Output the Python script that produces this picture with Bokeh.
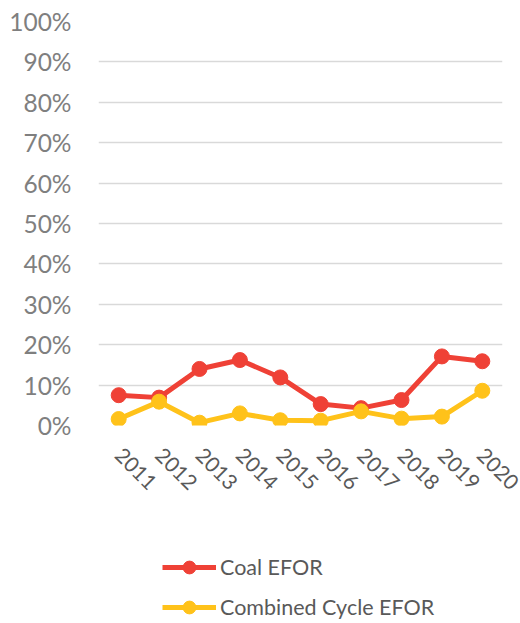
import math
from bokeh.plotting import figure
from bokeh.layouts import column
from bokeh.models import (Range1d, FactorRange, NumeralTickFormatter, FixedTicker, Legend,
                          LegendItem)
from bokeh.embed import file_html
from bokeh.resources import INLINE

years = ["2011", "2012", "2013", "2014", "2015", "2016", "2017", "2018", "2019", "2020"]
coal_efor = [0.075, 0.069, 0.140, 0.162, 0.119, 0.053, 0.043, 0.063, 0.171, 0.159]
cc_efor = [0.016, 0.059, 0.007, 0.030, 0.013, 0.012, 0.035, 0.017, 0.022, 0.086]
y_ticks = [0, 0.1, 0.2, 0.3, 0.4, 0.5, 0.6, 0.7, 0.8, 0.9, 1.0]
series_names = ["Coal EFOR", "Combined Cycle EFOR"]

RED = "#EF4136"
YEL = "#FFC21A"
FONT = "Lato"

p = figure(width=520, height=515, x_range=FactorRange(*years, range_padding=0),
           y_range=Range1d(0, 1.0), output_backend="svg", toolbar_location=None,
           min_border_left=98, min_border_right=18, min_border_top=21, min_border_bottom=90)
p.outline_line_color = None
p.background_fill_color = "white"

p.xgrid.grid_line_color = None
p.ygrid.grid_line_color = "#D9D9D9"
p.ygrid.grid_line_width = 1.5
p.ygrid.ticker = FixedTicker(ticks=y_ticks)

p.yaxis.ticker = FixedTicker(ticks=y_ticks)
p.yaxis.formatter = NumeralTickFormatter(format="0%")
p.yaxis.axis_line_color = None
p.yaxis.major_tick_line_color = None
p.yaxis.minor_tick_line_color = None
p.yaxis.major_label_text_font = FONT
p.yaxis.major_label_text_font_size = "24.5px"
p.yaxis.major_label_text_color = "#7F7F7F"
p.yaxis.major_label_standoff = 21

p.xaxis.axis_line_color = None
p.xaxis.major_tick_line_color = None
p.xaxis.minor_tick_line_color = None
p.xaxis.major_label_orientation = -math.pi / 4
p.xaxis.major_label_text_font = FONT
p.xaxis.major_label_text_font_size = "21px"
p.xaxis.major_label_text_color = "#595959"
p.xaxis.major_label_standoff = 20

p.line(years, coal_efor, line_color=RED, line_width=5)
p.scatter(years, coal_efor, size=15, fill_color=RED, line_color=RED)
p.line(years, cc_efor, line_color=YEL, line_width=5)
p.scatter(years, cc_efor, size=15, fill_color=YEL, line_color=YEL)

# legend panel below the chart (its renderers use the same series, kept out of view)
lg = figure(width=520, height=108, x_range=FactorRange(*years, range_padding=0),
            y_range=Range1d(10, 11), output_backend="svg", toolbar_location=None,
            min_border_left=98, min_border_right=18, min_border_top=0, min_border_bottom=0)
lg.outline_line_color = None
lg.axis.visible = False
lg.grid.visible = False
r1l = lg.line(years, coal_efor, line_color=RED, line_width=5)
r1s = lg.scatter(years, coal_efor, size=15, fill_color=RED, line_color=RED)
r2l = lg.line(years, cc_efor, line_color=YEL, line_width=5)
r2s = lg.scatter(years, cc_efor, size=15, fill_color=YEL, line_color=YEL)

legend = Legend(items=[LegendItem(label=series_names[0], renderers=[r1l, r1s]),
                       LegendItem(label=series_names[1], renderers=[r2l, r2s])],
                orientation="vertical", location=(64, 0),
                label_text_font=FONT, label_text_font_size="21.5px", label_text_color="#595959",
                glyph_width=54, glyph_height=32, label_height=32, label_standoff=4, spacing=8,
                border_line_color=None, background_fill_alpha=0, margin=0, padding=0)
lg.add_layout(legend, "center")

layout = column(p, lg, spacing=0)
open("out.html", "w").write(file_html(layout, INLINE))
